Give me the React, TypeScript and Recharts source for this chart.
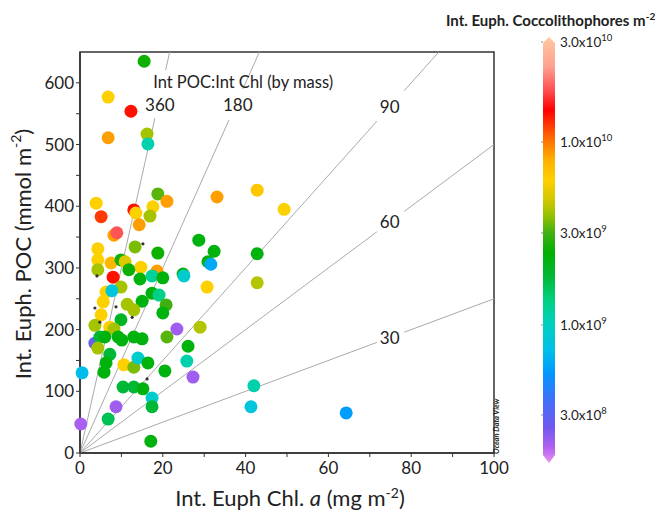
import React from 'react';
import { ScatterChart, Scatter, XAxis, YAxis, ReferenceLine, ReferenceArea, ReferenceDot } from 'recharts';

// Int. Euph. Chl a (mg m-2), Int. Euph. POC (mmol m-2), Int. Euph. coccolithophores (cells m-2)
const chl = [
  15.5, 6.8, 12.3, 6.8, 16.2, 16.4, 3.9, 5.1, 13.0, 13.5, 14.3, 17.6, 16.9, 18.8, 21.0, 8.2,
  8.9, 4.3, 13.3, 18.8, 28.7, 32.4, 30.9, 31.6, 33.1, 42.8, 49.3, 42.8, 30.7, 42.8, 29.0, 42.0,
  41.3, 64.3, 4.3, 4.3, 7.5, 9.9, 10.9, 14.7, 11.8, 14.5, 18.6, 17.4, 20.0, 24.9, 25.1, 8.0,
  9.9, 6.3, 7.7, 5.6, 5.1, 15.0, 17.4, 19.1, 11.4, 13.0, 20.8, 20.0, 9.9, 3.6, 7.2, 8.2,
  3.6, 4.8, 6.0, 9.2, 10.1, 13.0, 15.0, 21.0, 23.4, 26.1, 4.3, 7.2, 25.8, 6.3, 5.8, 10.6,
  13.0, 14.0, 16.4, 27.3, 0.5, 20.5, 10.4, 13.0, 15.2, 17.4, 17.4, 8.7, 6.8, 0.2, 17.1,
];
const poc = [
  635, 577, 554, 511, 517, 501, 405, 383, 394, 389, 370, 399, 384, 420, 408, 353,
  357, 331, 334, 324, 345, 327, 310, 306, 415, 426, 395, 323, 269, 276, 204, 109,
  75, 65, 313, 297, 308, 313, 310, 301, 297, 282, 295, 287, 284, 290, 287, 285,
  269, 261, 263, 245, 224, 246, 259, 256, 241, 232, 240, 227, 216, 207, 204, 201,
  178, 188, 188, 188, 183, 188, 185, 188, 201, 173, 170, 160, 149, 146, 131, 143,
  139, 154, 146, 123, 130, 133, 107, 107, 104, 89, 75, 75, 55, 47, 19,
];
const cocco = [
  2.5e9, 6e9, 1.35e10, 8.5e9, 4e9, 1.1e9, 6e9, 1.2e10, 1.35e10, 6e9, 8.5e9, 6e9, 4e9, 3.2e9, 8.5e9, 8.5e9,
  1.8e10, 6e9, 3.5e9, 2.5e9, 2.2e9, 2.2e9, 2.2e9, 6e8, 8.5e9, 6.5e9, 6e9, 2.2e9, 6e9, 4.2e9, 4.2e9, 1.1e9,
  8e8, 5.5e8, 6e9, 4e9, 7.5e9, 2.5e9, 5e9, 6e9, 2.5e9, 2.2e9, 8.5e9, 1.2e9, 2.2e9, 2.2e9, 9e8, 1.35e10,
  4e9, 6e9, 8e8, 6e9, 6e9, 2.2e9, 2.2e9, 1.3e9, 4e9, 4e9, 3e9, 2.2e9, 2e9, 4e9, 6e9, 4e9,
  2.8e8, 1.8e9, 2.2e9, 2.2e9, 2.2e9, 2.2e9, 2.2e9, 3.2e9, 2.1e8, 2.2e9, 4e9, 1.8e9, 1.1e9, 2.2e9, 2.2e9, 6e9,
  3.5e9, 9e8, 2.2e9, 2.1e8, 7e8, 2.2e9, 1.8e9, 1.8e9, 2.2e9, 9e8, 1.8e9, 2.1e8, 1.6e9, 2e8, 2.2e9,
];

// small black station markers
const dotChl = [15.2, 4.1, 3.6, 8.7, 12.6, 4.8, 16.2];
const dotPoc = [339, 287, 235, 237, 220, 212, 120];

// POC:Chl mass ratios for the guide lines
const ratios = [360, 180, 90, 60, 30];

const xTicks = [0, 10, 20, 30, 40, 50, 60, 70, 80, 90, 100];
const yTicks = [0, 50, 100, 150, 200, 250, 300, 350, 400, 450, 500, 550, 600];

const barTicks = [
  { mant: '3.0x10', exp: '10', value: 3e10 },
  { mant: '1.0x10', exp: '10', value: 1e10 },
  { mant: '3.0x10', exp: '9', value: 3e9 },
  { mant: '1.0x10', exp: '9', value: 1e9 },
  { mant: '3.0x10', exp: '8', value: 3e8 },
];

// colour scale (log10 of abundance -> colour)
const colorStops: [number, string][] = [
  [8.198, '#e890f0'],
  [8.291, '#b060f0'],
  [8.407, '#7058f0'],
  [8.564, '#4070f8'],
  [8.721, '#0098ff'],
  [8.855, '#00c0e8'],
  [9.0, '#00d0c0'],
  [9.13, '#00d080'],
  [9.249, '#00b838'],
  [9.373, '#00b000'],
  [9.477, '#40b010'],
  [9.569, '#90c000'],
  [9.667, '#d0c800'],
  [9.782, '#ffd000'],
  [9.897, '#ffb000'],
  [10.01, '#ff7000'],
  [10.152, '#ff0000'],
  [10.248, '#ff5050'],
  [10.358, '#ffa090'],
  [10.501, '#ffc8a0'],
];

// colour bar: log10 value -> pixel y (overlay coords)
const barAnchors: [number, number][] = [
  [10.501, 29], [10.477, 34], [10, 134], [9.477, 225], [9, 317], [8.477, 407], [8.198, 455],
];

const hex = (c: string) => [1, 3, 5].map(i => parseInt(c.slice(i, i + 2), 16));

const cocColor = (v: number) => {
  const l = Math.log10(v);
  if (l <= colorStops[0][0]) return colorStops[0][1];
  for (let i = 1; i < colorStops.length; i++) {
    const [l1, c1] = colorStops[i];
    if (l <= l1) {
      const [l0, c0] = colorStops[i - 1];
      const t = (l - l0) / (l1 - l0);
      const a = hex(c0), b = hex(c1);
      const m = a.map((x, k) => Math.round(x + (b[k] - x) * t));
      return `rgb(${m[0]},${m[1]},${m[2]})`;
    }
  }
  return colorStops[colorStops.length - 1][1];
};

const barY = (l: number) => {
  for (let i = 1; i < barAnchors.length; i++) {
    const [l0, y0] = barAnchors[i - 1];
    const [l1, y1] = barAnchors[i];
    if (l <= l0 && l >= l1) return y0 + ((l0 - l) / (l0 - l1)) * (y1 - y0);
  }
  return l > barAnchors[0][0] ? barAnchors[0][1] : barAnchors[barAnchors.length - 1][1];
};

const points = chl.map((c, i) => ({ chl: c, poc: poc[i], cocco: cocco[i] }));
const dots = dotChl.map((c, i) => ({ chl: c, poc: dotPoc[i] }));

const X_MAX = 100;
const Y_MAX = 650;
const FONT = 'Lato, "Open Sans", sans-serif';

// each guide line is split around its label
const guideSegments = ratios.flatMap(r => {
  const k = r / 12;
  const endX = Math.min(X_MAX, Y_MAX / k);
  let gap: [number, number];
  if (r === 360) gap = [543 / k, 621 / k];
  else if (r === 180) gap = [540 / k, 590 / k];
  else gap = [71.7, 78.3];
  return [
    { r, seg: [{ x: 0, y: 0 }, { x: gap[0], y: gap[0] * k }] },
    { r, seg: [{ x: gap[1], y: gap[1] * k }, { x: endX, y: endX * k }] },
  ];
});

const guideLabels = ratios.map(r => {
  const k = r / 12;
  if (r >= 180) return { r, x: 564 / k + 0.5, y: 564 };
  return { r, x: 74.8, y: 74.8 * k };
});

const Bubble = (props: any) => {
  const { cx, cy, payload } = props;
  if (cx == null || cy == null) return null;
  return <circle cx={cx} cy={cy} r={6.5} fill={cocColor(payload.cocco)} />;
};

const SmallDot = (props: any) => {
  const { cx, cy } = props;
  if (cx == null || cy == null) return null;
  return <circle cx={cx} cy={cy} r={1.6} fill="#333" />;
};

const tickStyle = { fontSize: 17, fill: '#222', fontFamily: FONT };

export default function App() {
  const top = barAnchors[0][1];
  const bottom = barAnchors[barAnchors.length - 1][1];
  const barL = 535;
  const barR = 547;
  const gradStops = colorStops
    .map(([l, c]) => ({ off: (barY(l) - top) / (bottom - top), c }))
    .sort((a, b) => a.off - b.off);

  return (
    <div style={{ position: 'relative', width: 660, height: 506, fontFamily: FONT }}>
      <ScatterChart width={660} height={506} margin={{ top: 44, right: 174, bottom: 31, left: 0 }}>
        <XAxis
          type="number"
          dataKey="chl"
          domain={[0, X_MAX]}
          ticks={xTicks}
          interval={0}
          tickFormatter={(v: number) => (v % 20 === 0 ? String(v) : '')}
          tickSize={4}
          tickMargin={5}
          height={30}
          tick={tickStyle}
          axisLine={{ stroke: '#333', strokeWidth: 1.5 }}
          tickLine={{ stroke: '#333' }}
        />
        <YAxis
          type="number"
          dataKey="poc"
          domain={[0, Y_MAX]}
          ticks={yTicks}
          interval={0}
          tickFormatter={(v: number) => (v % 100 === 0 ? String(v) : '')}
          tickSize={4}
          width={72}
          tick={tickStyle}
          axisLine={{ stroke: '#333', strokeWidth: 1.5 }}
          tickLine={{ stroke: '#333' }}
        />
        <ReferenceArea x1={0} x2={X_MAX} y1={0} y2={Y_MAX} fill="none" stroke="#333" strokeWidth={1.5} />
        {guideSegments.map((g, i) => (
          <ReferenceLine key={i} segment={g.seg} stroke="#aaa" strokeWidth={1} />
        ))}
        {guideLabels.map(g => (
          <ReferenceDot
            key={g.r}
            x={g.x}
            y={g.y}
            r={1}
            fill="none"
            stroke="none"
            label={{ value: String(g.r), position: 'center', fontSize: 17, fill: '#222', fontFamily: FONT }}
          />
        ))}
        <ReferenceDot
          x={39.4}
          y={601}
          r={1}
          fill="none"
          stroke="none"
          label={{ value: 'Int POC:Int Chl (by mass)', position: 'center', fontSize: 16.5, fill: '#222', fontFamily: FONT }}
        />
        <Scatter data={points} shape={Bubble} isAnimationActive={false} />
        <Scatter data={dots} shape={SmallDot} isAnimationActive={false} />
      </ScatterChart>

      <svg width={660} height={506} style={{ position: 'absolute', left: 0, top: 0, pointerEvents: 'none' }}>
        <defs>
          <linearGradient id="cbar" gradientUnits="userSpaceOnUse" x1={0} y1={top} x2={0} y2={bottom}>
            {gradStops.map((s, i) => (
              <stop key={i} offset={s.off} stopColor={s.c} />
            ))}
          </linearGradient>
        </defs>

        <text x={17} y={246} transform="rotate(-90 17 246)" textAnchor="middle" dominantBaseline="middle" fontSize={22} fill="#222" fontFamily={FONT}>
          Int. Euph. POC (mmol m<tspan dy={-8} fontSize={14}>-2</tspan><tspan dy={8}>)</tspan>
        </text>
        <text x={282} y={498} textAnchor="middle" fontSize={22} fill="#222" fontFamily={FONT}>
          Int. Euph Chl. <tspan fontStyle="italic">a</tspan> (mg m<tspan dy={-8} fontSize={14}>-2</tspan><tspan dy={8}>)</tspan>
        </text>
        <text x={491} y={446} transform="rotate(-90 491 446)" fontSize={7.5} fontStyle="italic" fontWeight="bold" fill="#222" fontFamily={FONT}>
          Ocean Data View
        </text>

        <text x={438} y={18} fontSize={15} fontWeight="bold" fill="#222" fontFamily={FONT}>
          Int. Euph. Coccolithophores m<tspan dy={-6} fontSize={10}>-2</tspan>
        </text>
        <polygon
          points={`${(barL + barR) / 2},${top} ${barR},${top + 6} ${barR},${bottom - 8} ${(barL + barR) / 2},${bottom} ${barL},${bottom - 8} ${barL},${top + 6}`}
          fill="url(#cbar)"
        />
        {barTicks.map(t => {
          const y = barY(Math.log10(t.value));
          return (
            <g key={t.mant + t.exp}>
              <line x1={barL - 2} x2={barL} y1={y} y2={y} stroke="#888" />
              <text x={552} y={y + 5} fontSize={13.5} fill="#222" fontFamily={FONT}>
                {t.mant}
                <tspan dy={-6} fontSize={9.5}>{t.exp}</tspan>
              </text>
            </g>
          );
        })}
      </svg>
    </div>
  );
}
